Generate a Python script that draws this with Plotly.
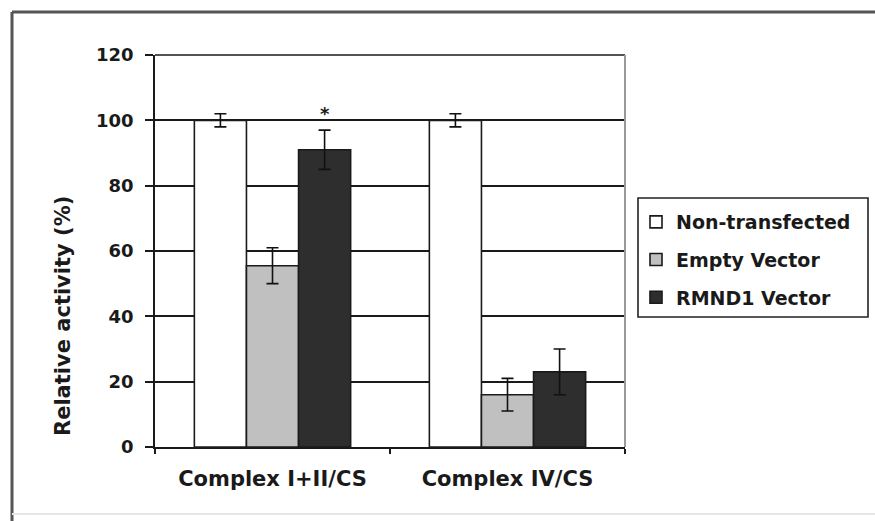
import plotly.graph_objects as go

categories = ["Complex I+II/CS", "Complex IV/CS"]
series_names = ["Non-transfected", "Empty Vector", "RMND1 Vector"]
non_transfected = [100, 100]
non_transfected_err = [2, 2]
empty_vector = [55.5, 16]
empty_vector_err = [5.5, 5]
rmnd1_vector = [91, 23]
rmnd1_vector_err = [6, 7]
y_ticks = [0, 20, 40, 60, 80, 100, 120]
y_title = "Relative activity (%)"
significance_label = "*"
significance_y = 102

FONT = "DejaVu Sans"
INK = "#1a1a1a"
colors = ["#ffffff", "#c0c0c0", "#2e2e2e"]
values = [non_transfected, empty_vector, rmnd1_vector]
errors = [non_transfected_err, empty_vector_err, rmnd1_vector_err]

fig = go.Figure()
for name, vals, errs, col in zip(series_names, values, errors, colors):
    fig.add_trace(go.Bar(
        x=categories, y=vals, name=name, legendgroup=name,
        marker=dict(color=col, line=dict(color=INK, width=1.6)),
        error_y=dict(type="data", array=errs, visible=True,
                     color="#111111", thickness=1.6, width=6),
    ))

L, R, T, B = 155, 250, 55, 74
W, H = 875, 521
pw = W - L - R
ph = H - T - B
bargap = 0.335
bar_w = (pw / len(categories)) * (1 - bargap) / len(series_names)

def px_x(p):
    return (p - L) / pw

def px_y(p):
    return 1 - (p - T) / ph

shapes = [
    # outer frame
    dict(type="line", xref="paper", yref="paper", x0=px_x(12), x1=px_x(900),
         y0=px_y(12), y1=px_y(12), line=dict(color="#555555", width=3)),
    dict(type="line", xref="paper", yref="paper", x0=px_x(12), x1=px_x(12),
         y0=px_y(12), y1=px_y(540), line=dict(color="#555555", width=3)),
    dict(type="line", xref="paper", yref="paper", x0=px_x(12), x1=px_x(900),
         y0=px_y(514), y1=px_y(514), line=dict(color="#e6e6e6", width=2)),
    # top gridline (range edge) and right plot border
    dict(type="line", xref="paper", yref="paper", x0=0, x1=1, y0=1, y1=1,
         line=dict(color=INK, width=1.6), layer="below"),
    dict(type="line", xref="paper", yref="paper", x0=1, x1=1, y0=0, y1=1,
         line=dict(color="#9a9a9a", width=2)),
    # legend box
    dict(type="rect", xref="paper", yref="paper", x0=px_x(638), x1=px_x(868),
         y0=px_y(317), y1=px_y(198), line=dict(color="#222222", width=1.6)),
]

fig.update_layout(
    width=W, height=H,
    margin=dict(l=L, r=R, t=T, b=B, autoexpand=False),
    paper_bgcolor="white", plot_bgcolor="white",
    barmode="group", bargap=bargap, bargroupgap=0,
    font=dict(family=FONT, color=INK),
    showlegend=True,
    legend=dict(
        x=px_x(636), y=px_y(203), xanchor="left", yanchor="top",
        bgcolor="rgba(0,0,0,0)", borderwidth=0,
        font=dict(family=FONT, size=19, weight="bold", color=INK),
        tracegroupgap=10, traceorder="grouped",
    ),
    shapes=shapes,
    annotations=[
        dict(x=categories[0], y=significance_y, xref="x", yref="y",
             text=significance_label, showarrow=False, xshift=bar_w,
             font=dict(family=FONT, size=18, weight="bold", color=INK),
             yanchor="middle"),
        dict(x=px_x(63), y=px_y(316), xref="paper", yref="paper",
             text=y_title, showarrow=False, textangle=-90,
             xanchor="center", yanchor="middle",
             font=dict(family=FONT, size=21, weight="bold", color=INK)),
    ],
)

fig.update_yaxes(
    range=[0, 120], tickvals=y_ticks, ticktext=[str(v) for v in y_ticks],
    showgrid=True, gridcolor=INK, gridwidth=1.6,
    showline=True, linecolor=INK, linewidth=1.6,
    ticks="outside", ticklen=8, tickwidth=1.6, tickcolor=INK,
    tickfont=dict(family=FONT, size=18, weight="bold", color=INK),
    ticklabelstandoff=8, zeroline=False,
)
fig.update_xaxes(
    type="category", showgrid=False,
    showline=True, linecolor=INK, linewidth=1.6,
    ticks="outside", tickson="boundaries", ticklen=5, tickwidth=1.6, tickcolor=INK,
    tickfont=dict(family=FONT, size=21, weight="bold", color=INK),
    ticklabelstandoff=12,
)

fig.write_html("out.html")
